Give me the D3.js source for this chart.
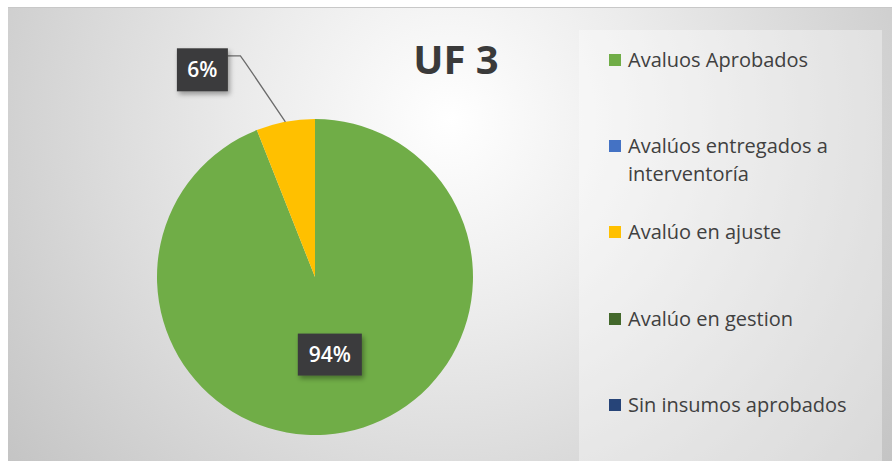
<!DOCTYPE html>
<html>
<head>
<meta charset="utf-8">
<script src="https://cdn.jsdelivr.net/npm/d3@7"></script>
<style>
  body { margin: 0; background: #fff; }
  svg { display: block; font-family: "Open Sans", sans-serif; }
</style>
</head>
<body>
<div id="chart"></div>
<script>
var categories = [
  "Avaluos Aprobados",
  "Avalúos entregados a interventoría",
  "Avalúo en ajuste",
  "Avalúo en gestion",
  "Sin insumos aprobados",
];
var values = [94, 0, 6, 0, 0];
var colors = ["#70ad47", "#4472c4", "#ffc000", "#43682b", "#264478"];
var title = "UF 3";

const width = 892;
const height = 461;
const pieCenter = { x: 315, y: 277 };
const radius = 158;

const svg = d3
  .select("#chart")
  .append("svg")
  .attr("width", width)
  .attr("height", height);

const defs = svg.append("defs");

const bg = defs
  .append("radialGradient")
  .attr("id", "bg")
  .attr("gradientUnits", "userSpaceOnUse")
  .attr("cx", 450)
  .attr("cy", 120)
  .attr("r", 560);
bg.append("stop").attr("offset", "0").attr("stop-color", "#ffffff");
bg.append("stop").attr("offset", "0.35").attr("stop-color", "#ececec");
bg.append("stop").attr("offset", "1").attr("stop-color", "#c4c4c4");

const shadow = defs
  .append("filter")
  .attr("id", "shadow")
  .attr("x", "-30%")
  .attr("y", "-30%")
  .attr("width", "160%")
  .attr("height", "160%");
shadow
  .append("feDropShadow")
  .attr("dx", 2)
  .attr("dy", 3)
  .attr("stdDeviation", 2.5)
  .attr("flood-color", "#000")
  .attr("flood-opacity", 0.35);

// chart area
svg
  .append("rect")
  .attr("x", 8)
  .attr("y", 7)
  .attr("width", width - 8)
  .attr("height", height - 7)
  .attr("fill", "url(#bg)");
svg
  .append("line")
  .attr("x1", 8)
  .attr("x2", width)
  .attr("y1", 7.5)
  .attr("y2", 7.5)
  .attr("stroke", "#c8c8c8");

// legend panel
const legendX = 579;
const legendY = 30;
svg
  .append("rect")
  .attr("x", legendX)
  .attr("y", legendY)
  .attr("width", 303)
  .attr("height", height - legendY)
  .attr("fill", "#ffffff")
  .attr("fill-opacity", 0.35);

// title
svg
  .append("text")
  .attr("x", 456)
  .attr("y", 74)
  .attr("text-anchor", "middle")
  .attr("font-size", 40)
  .attr("font-weight", "bold")
  .attr("fill", "#3a3a3a")
  .text(title);

// pie
const data = categories.map(function (c, i) {
  return { name: c, value: values[i], color: colors[i] };
});
const pie = d3.pie().sort(null).value(function (d) {
  return d.value;
});
const arcs = pie(data);
const arc = d3.arc().innerRadius(0).outerRadius(radius);

const g = svg
  .append("g")
  .attr("transform", "translate(" + pieCenter.x + "," + pieCenter.y + ")");

g.selectAll("path.slice")
  .data(arcs.filter(function (d) { return d.value > 0; }))
  .enter()
  .append("path")
  .attr("class", "slice")
  .attr("d", arc)
  .attr("fill", function (d) { return d.data.color; });

// data labels
function pct(d) {
  return Math.round(d.value) + "%";
}

arcs.forEach(function (d) {
  if (d.value <= 0) return;
  const mid = (d.startAngle + d.endAngle) / 2;
  const big = d.endAngle - d.startAngle > 0.5;
  let lx, ly;
  if (big) {
    const c = arc.centroid(d);
    lx = c[0];
    ly = c[1];
  } else {
    // outside label with leader line
    const ex = Math.sin(mid) * radius;
    const ey = -Math.cos(mid) * radius;
    const bx = ex - 40;
    const by = ey - 59;
    lx = bx - 43;
    ly = by + 7;
    g.append("path")
      .attr("d", "M" + ex + "," + ey + "L" + bx + "," + by + "L" + (bx - 5) + "," + (by - 7) + "L" + (lx + 25) + "," + (by - 7))
      .attr("fill", "none")
      .attr("stroke", "#6b6b6b")
      .attr("stroke-width", 1.3);
  }
  const txt = pct(d);
  const w = big ? 64 : 51;
  const h = big ? 42 : 43;
  g.append("rect")
    .attr("x", lx - w / 2)
    .attr("y", ly - h / 2)
    .attr("width", w)
    .attr("height", h)
    .attr("fill", "#3a3a3c")
    .attr("filter", "url(#shadow)");
  g.append("text")
    .attr("x", lx)
    .attr("y", ly)
    .attr("dy", "0.36em")
    .attr("text-anchor", "middle")
    .attr("font-size", 21)
    .attr("font-weight", 600)
    .attr("fill", "#ffffff")
    .text(txt);
});

// legend
const rowY = [60, 146, 232, 319, 405];
const legend = svg
  .selectAll("g.legend")
  .data(data)
  .enter()
  .append("g")
  .attr("class", "legend")
  .attr("transform", function (d, i) {
    return "translate(609," + rowY[i] + ")";
  });

legend
  .append("rect")
  .attr("x", 0)
  .attr("y", -6)
  .attr("width", 12)
  .attr("height", 12)
  .attr("fill", function (d) { return d.color; });

legend.each(function (d) {
  const el = d3.select(this);
  const lines = d.name === "Avalúos entregados a interventoría"
    ? ["Avalúos entregados a", "interventoría"]
    : [d.name];
  lines.forEach(function (t, j) {
    el.append("text")
      .attr("x", 19)
      .attr("y", j * 28)
      .attr("dy", "0.35em")
      .attr("font-size", 20)
      .attr("fill", "#404040")
      .text(t);
  });
});
</script>
</body>
</html>
